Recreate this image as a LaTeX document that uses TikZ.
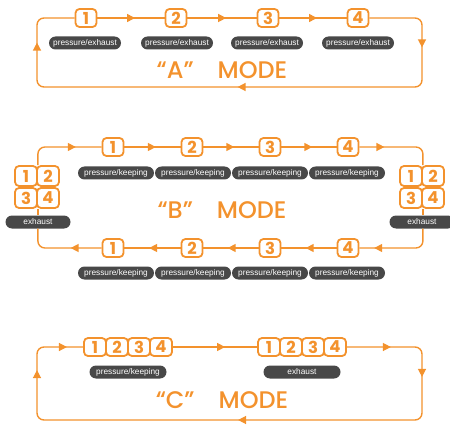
\documentclass[tikz,border=0pt]{standalone}
\usepackage{fontspec}
\setmainfont{Poppins}[BoldFont={Poppins Bold}]
\newfontfamily\modefont{Poppins Medium}
\newfontfamily\pillfont{Liberation Sans}
\usetikzlibrary{arrows.meta,decorations.markings}

\definecolor{modeorange}{RGB}{243,146,45}
\definecolor{pillgray}{RGB}{72,72,72}

\tikzset{
  digit/.style={draw=modeorange, line width=1.8pt, rounded corners=4pt, fill=white, text=modeorange,
    minimum width=21pt, minimum height=18pt, inner sep=0pt, font=\fontsize{16.5}{16}\selectfont\bfseries},
  pill/.style={fill=pillgray, rounded corners=6.5pt, text=white, minimum height=13pt, inner sep=0pt,
    font=\pillfont\fontsize{8.3}{8}\selectfont},
  flowline/.style={draw=modeorange, line width=1.4pt},
  flowat/.style={postaction={decorate, decoration={markings,
    mark=at position #1 with {\arrow[modeorange]{Triangle[length=8pt,width=8pt]}}}}},
  modetext/.style={text=modeorange, font=\modefont\fontsize{24}{24}\selectfont},
}

\begin{document}
\begin{tikzpicture}[x=1pt, y=-1pt]
    \useasboundingbox (0,0) rectangle (450,425);

    % "A" mode
    \node[digit] (a1) at (86, 18) {1}; \node[digit] (a2) at (176, 18) {2}; \node[digit] (a3) at (268, 18) {3}; \node[digit] (a4) at (358, 18) {4};
    \node[pill, minimum width=72pt] (ap1) at (85, 43) {pressure/exhaust}; \node[pill, minimum width=72pt] (ap2) at (177, 43) {pressure/exhaust};
    \node[pill, minimum width=72pt] (ap3) at (267, 43) {pressure/exhaust}; \node[pill, minimum width=72pt] (ap4) at (358, 43) {pressure/exhaust};
    \node[modetext] (amode) at (222, 70) {“A”\quad MODE};
    \coordinate (aNE) at (422, 18); \coordinate (aSE) at (422, 87); \coordinate (aSW) at (37, 87); \coordinate (aNW) at (37, 18);

    \draw[flowline, flowat=0.56] (a1) -- (a2); \draw[flowline, flowat=0.56] (a2) -- (a3); \draw[flowline, flowat=0.56] (a3) -- (a4);
    \draw[flowline, rounded corners=7pt, flowat=79pt, flowat=300pt, flowat=542pt] (a4.east) -- (aNE) -- (aSE) -- (aSW) -- (aNW) -- (a1.west);

    % "B" mode
    \node[digit] (bt1) at (113, 147) {1}; \node[digit] (bt2) at (192, 147) {2}; \node[digit] (bt3) at (270, 147) {3}; \node[digit] (bt4) at (348, 147) {4};
    \node[digit] (bl1) at (113, 248) {1}; \node[digit] (bl2) at (192, 248) {2}; \node[digit] (bl3) at (270, 248) {3}; \node[digit] (bl4) at (348, 248) {4};
    \node[pill, minimum width=76pt] (btp1) at (116, 173) {pressure/keeping}; \node[pill, minimum width=76pt] (btp2) at (193, 173) {pressure/keeping};
    \node[pill, minimum width=76pt] (btp3) at (270, 173) {pressure/keeping}; \node[pill, minimum width=76pt] (btp4) at (347, 173) {pressure/keeping};
    \node[pill, minimum width=76pt] (blp1) at (116, 273) {pressure/keeping}; \node[pill, minimum width=76pt] (blp2) at (193, 273) {pressure/keeping};
    \node[pill, minimum width=76pt] (blp3) at (270, 273) {pressure/keeping}; \node[pill, minimum width=76pt] (blp4) at (347, 273) {pressure/keeping};
    \node[digit, minimum width=22pt, minimum height=20pt] (gl1) at (26, 176) {1}; \node[digit, minimum width=22pt, minimum height=20pt] (gl2) at (48, 176) {2};
    \node[digit, minimum width=22pt, minimum height=20pt] (gl3) at (26, 198) {3}; \node[digit, minimum width=22pt, minimum height=20pt] (gl4) at (48, 198) {4};
    \node[digit, minimum width=22pt, minimum height=20pt] (gr1) at (411, 176) {1}; \node[digit, minimum width=22pt, minimum height=20pt] (gr2) at (433, 176) {2};
    \node[digit, minimum width=22pt, minimum height=20pt] (gr3) at (411, 198) {3}; \node[digit, minimum width=22pt, minimum height=20pt] (gr4) at (433, 198) {4};
    \node[pill, minimum width=65pt] (glx) at (38, 222) {exhaust}; \node[pill, minimum width=65pt] (grx) at (422, 222) {exhaust};
    \node[modetext] (bmode) at (222, 210) {“B”\quad MODE};

    \draw[flowline, rounded corners=7pt, flowat=53pt] (gl1.north east) |- (bt1.west);
    \draw[flowline, flowat=0.56] (bt1) -- (bt2); \draw[flowline, flowat=0.56] (bt2) -- (bt3); \draw[flowline, flowat=0.56] (bt3) -- (bt4);
    \draw[flowline, rounded corners=7pt, flowat=25pt] (bt4.east) -| (gr1.north east);
    \draw[flowline] (gr3.south east) -- (gr3.south east |- grx.north);
    \draw[flowline, rounded corners=7pt, flowat=65pt] (gr3.south east |- grx.south) |- (bl4.east);
    \draw[flowline, flowat=0.56] (bl4) -- (bl3); \draw[flowline, flowat=0.56] (bl3) -- (bl2); \draw[flowline, flowat=0.56] (bl2) -- (bl1);
    \draw[flowline, rounded corners=7pt, flowat=31pt] (bl1.west) -| (gl3.south east |- glx.south);
    \draw[flowline] (gl3.south east |- glx.north) -- (gl3.south east);

    % "C" mode
    \node[digit, minimum width=22pt] (c1) at (95, 347) {1}; \node[digit, minimum width=22pt] (c2) at (117, 347) {2};
    \node[digit, minimum width=22pt] (c3) at (139, 347) {3}; \node[digit, minimum width=22pt] (c4) at (161, 347) {4};
    \node[digit, minimum width=22pt] (d1) at (269, 347) {1}; \node[digit, minimum width=22pt] (d2) at (291, 347) {2};
    \node[digit, minimum width=22pt] (d3) at (313, 347) {3}; \node[digit, minimum width=22pt] (d4) at (335, 347) {4};
    \node[pill, minimum width=77pt] (cp) at (128, 372) {pressure/keeping}; \node[pill, minimum width=77pt] (dp) at (302, 372) {exhaust};
    \node[modetext] (cmode) at (222, 400) {“C”\quad MODE};
    \coordinate (cNE) at (422, 347); \coordinate (cSE) at (422, 420); \coordinate (cSW) at (37, 420); \coordinate (cNW) at (37, 347);

    \draw[flowline, flowat=0.62] (c4) -- (d1);
    \draw[flowline, rounded corners=7pt, flowat=44pt, flowat=102pt, flowat=326pt, flowat=574pt, flowat=624pt] (d4.east) -- (cNE) -- (cSE) -- (cSW) -- (cNW) -- (c1.west);
\end{tikzpicture}
\end{document}
